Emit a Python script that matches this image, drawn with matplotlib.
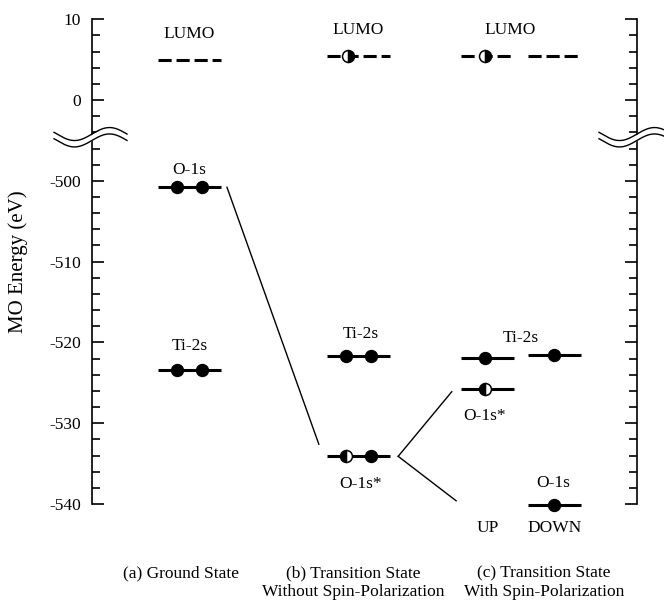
import numpy as np
import matplotlib
matplotlib.use("Agg")
import matplotlib.pyplot as plt
import matplotlib.transforms as mtransforms

plt.rcParams['font.family'] = ['Liberation Serif', 'DejaVu Serif']

# ---------------- data (MO energies, eV) ----------------
level_names_a = ['LUMO', 'O-1s', 'Ti-2s']
energies_a = [4.9, -500.8, -523.4]
occupancy_a = [[], ['full', 'full'], ['full', 'full']]

level_names_b = ['LUMO', 'Ti-2s', 'O-1s*']
energies_b = [5.5, -521.7, -534.1]
occupancy_b = [['half_r'], ['full', 'full'], ['half', 'full']]

level_names_up = ['LUMO', 'Ti-2s', 'O-1s*']
energies_up = [5.4, -521.9, -525.8]
occupancy_up = [['half_r'], ['full'], ['half']]

level_names_down = ['LUMO', 'Ti-2s', 'O-1s']
energies_down = [5.5, -521.6, -540.1]
occupancy_down = [[], ['full'], ['full']]

captions_line1 = ['(a) Ground State', '(b) Transition State', '(c) Transition State']
captions_line2 = ['', 'Without Spin-Polarization', 'With Spin-Polarization']
spin_labels = ['UP', 'DOWN']

major_ticks = [10, 0, -500, -510, -520, -530, -540]
minor_ticks = [8, 6, 4, 2, -2, -494, -496, -498] + \
              [v for v in range(-502, -540, -2) if v % 10 != 0]

# ---------------- broken energy scale ----------------
def fwd(y):
    y = np.asarray(y, dtype=float)
    return np.where(y > -250, y, y + 490)

def inv(v):
    v = np.asarray(v, dtype=float)
    return np.where(v > -3, v, v - 490)

fig = plt.figure(figsize=(6.64, 6.0), dpi=100)
ax = fig.add_axes([92/664, 1-504/600, (637-92)/664, (504-19.3)/600])
ax.set_yscale('function', functions=(fwd, inv))
ax.set_ylim(-540, 10)
ax.set_xlim(0, 10)

ax.set_yticks(major_ticks)
ax.set_yticklabels([str(t) for t in major_ticks])
ax.set_yticks(minor_ticks, minor=True)
ax.set_xticks([])
for s in ['top', 'bottom']:
    ax.spines[s].set_visible(False)
for s in ['left', 'right']:
    ax.spines[s].set_linewidth(1.2)
ax.tick_params(axis='y', which='both', direction='in', left=True, right=True,
               labelleft=True, labelright=False, width=1.2, labelsize=12.5, pad=8)
ax.tick_params(axis='y', which='major', length=8.6)
ax.tick_params(axis='y', which='minor', length=5.5)

# ---------------- layout ----------------
centers = [1.789, 4.890, 7.257, 8.486]
half_w = [0.578, 0.578, 0.486, 0.486]
pair_dx = 0.229

columns = [
    (level_names_a, energies_a, occupancy_a),
    (level_names_b, energies_b, occupancy_b),
    (level_names_up, energies_up, occupancy_up),
    (level_names_down, energies_down, occupancy_down),
]

LW = 2.2
MS = 8.6

def draw_marker(x, y, kind):
    if kind == 'full':
        ax.plot(x, y, 'o', ms=MS, mfc='black', mec='black', zorder=5, clip_on=False)
    else:
        fs = 'left' if kind == 'half' else 'right'
        ax.plot(x, y, 'o', ms=MS, mfc='black', mec='black', mew=1.1,
                fillstyle=fs, markerfacecoloralt='white', zorder=5, clip_on=False)

for ci, (names, energies, occ) in enumerate(columns):
    xc, hw = centers[ci], half_w[ci]
    for name, e, electrons in zip(names, energies, occ):
        if name == 'LUMO':
            ax.plot([xc - hw, xc + hw], [e, e], color='black', lw=LW,
                    dashes=(4.3, 1.6), solid_capstyle='butt', dash_capstyle='butt',
                    clip_on=False)
        else:
            ax.plot([xc - hw, xc + hw], [e, e], color='black', lw=LW,
                    solid_capstyle='butt', clip_on=False)
        if len(electrons) == 2:
            xs = [xc - pair_dx, xc + pair_dx]
        elif len(electrons) == 1:
            if ci == 1:
                xs = [xc - 0.19]
            elif ci == 2:
                xs = [xc - 0.04]
            else:
                xs = [xc]
        else:
            xs = []
        for x, k in zip(xs, electrons):
            draw_marker(x, e, k)

def label(text, x, e, dy_px):
    ax.annotate(text, xy=(x, e), xytext=(0, dy_px * 0.72),
                textcoords='offset points', ha='center', va='baseline',
                fontsize=12.5, annotation_clip=False)

# level labels
label('LUMO', centers[0], energies_a[0], 22)
label('O-1s', centers[0], energies_a[1], 13.4)
label('Ti-2s', centers[0], energies_a[2], 20)
label('LUMO', centers[1], energies_b[0], 22)
label('Ti-2s', centers[1] + 0.05, energies_b[1], 17.7)
label('O-1s*', centers[1] + 0.03, energies_b[2], -31.6)
label('LUMO', (centers[2] + centers[3]) / 2 - 0.2, energies_up[0], 22)
label('Ti-2s', (centers[2] + centers[3]) / 2, energies_up[1], 15.5)
label('O-1s*', centers[2] - 0.05, energies_up[2], -30.7)
label('O-1s', centers[3] - 0.03, energies_down[2], 17.7)

# spin labels and captions (below axis)
label(spin_labels[0], centers[2], -540, -28.3)
label(spin_labels[1], centers[3], -540, -28.3)
cap_x = [1.63, 4.79, 8.29]
for cx, l1, l2 in zip(cap_x, captions_line1, captions_line2):
    label(l1, cx, -540, -73)
    if l2:
        label(l2, cx, -540, -92)

# correlation lines
thin = dict(color='black', lw=1.0)
ax.plot([centers[0] + half_w[0] + 0.11, centers[1] - half_w[1] - 0.15],
        [energies_a[1], energies_b[2] + 1.5], **thin)
split_x = centers[1] + half_w[1] + 0.15
ax.plot([split_x, centers[2] - half_w[2] - 0.17],
        [energies_b[2], energies_up[2] - 0.3], **thin)
ax.plot([split_x, centers[2] - half_w[2] - 0.09],
        [energies_b[2], energies_down[2] + 0.5], **thin)

# y label
fig.text(18/664, 1 - 262/600, 'MO Energy (eV)', rotation=90, ha='center',
         va='center', fontsize=15)

# ---------------- axis break symbols ----------------
def draw_break(xdata):
    ybreak = -494.6
    trans = fig.dpi_scale_trans + mtransforms.ScaledTranslation(xdata, ybreak, ax.transData)
    dx = np.linspace(-38, 35, 200)
    wave = 6.5 * np.sin(2 * np.pi * dx / 70.0)
    up = wave + 3.2
    lo = wave - 3.2
    ax.fill_between(dx / 100, lo / 100, up / 100, color='white', transform=trans,
                    clip_on=False, zorder=10, lw=0)
    ax.plot(dx / 100, up / 100, color='black', lw=1.0, transform=trans,
            clip_on=False, zorder=11)
    ax.plot(dx / 100, lo / 100, color='black', lw=1.0, transform=trans,
            clip_on=False, zorder=11)

draw_break(0)
draw_break(10)

fig.savefig('out.png', dpi=100)
